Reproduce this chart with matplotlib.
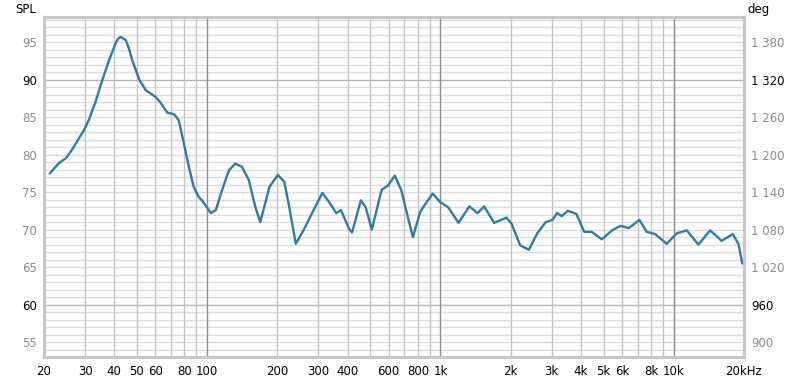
import numpy as np
import matplotlib.pyplot as plt
from matplotlib.ticker import FixedLocator, NullFormatter

# Frequency response
freq = [21.2, 23.2, 24.8, 26.3, 29.7, 31.1, 33.3, 35.6, 38.0, 40.6, 41.6, 42.7,
        44.8, 46.2, 47.8, 51.2, 54.6, 60.2, 63.3, 67.5, 72.1, 75.6, 79.5, 83.5,
        87.6, 91.9, 95.0, 103.8, 109, 116, 124, 132, 141, 151, 161, 169, 185,
        201, 214, 225, 240, 261, 286, 312, 333, 358, 375, 406, 418, 456, 478,
        508, 560, 597, 637, 679, 722, 762, 820, 874, 927, 995, 1078, 1196, 1330,
        1441, 1540, 1698, 1918, 2017, 2197, 2392, 2600, 2828, 3025, 3156, 3310,
        3516, 3823, 4133, 4446, 4921, 5440, 5910, 6420, 7120, 7660, 8320, 9330,
        10300, 11370, 12750, 14320, 16040, 17900, 18930, 19660]
spl = [77.5, 78.9, 79.5, 80.6, 83.3, 84.6, 87.1, 90.0, 92.6, 94.9, 95.5, 95.7,
       95.3, 94.2, 92.6, 90.0, 88.6, 87.7, 86.9, 85.6, 85.4, 84.6, 81.5, 78.4,
       75.7, 74.4, 73.9, 72.2, 72.6, 75.3, 77.9, 78.8, 78.4, 76.6, 73.0, 71.0,
       75.7, 77.3, 76.4, 73.0, 68.1, 70.1, 72.6, 74.9, 73.7, 72.2, 72.6, 70.1,
       69.6, 73.9, 73.0, 70.0, 75.3, 75.9, 77.2, 75.3, 71.9, 69.0, 72.4, 73.7,
       74.8, 73.7, 73.0, 70.9, 73.1, 72.2, 73.1, 70.9, 71.6, 70.8, 67.9, 67.3,
       69.5, 71.0, 71.3, 72.2, 71.8, 72.5, 72.1, 69.7, 69.7, 68.7, 69.9, 70.5,
       70.2, 71.3, 69.7, 69.4, 68.1, 69.5, 69.9, 68.0, 69.9, 68.5, 69.4, 68.1,
       65.5]

x_ticks = [20, 30, 40, 50, 60, 80, 100, 200, 300, 400, 600, 800, 1000,
           2000, 3000, 4000, 5000, 6000, 8000, 10000, 20000]
x_labels = ["20", "30", "40", "50", "60", "80", "100", "200", "300", "400",
            "600", "800", "1k", "2k", "3k", "4k", "5k", "6k", "8k", "10k", "20kHz"]
y_ticks = [55, 60, 65, 70, 75, 80, 85, 90, 95]
deg_labels = ["900", "960", "1 020", "1 080", "1 140", "1 200", "1 260", "1 320", "1 380"]

fig = plt.figure(figsize=(8, 3.81), dpi=100)
ax = fig.add_axes([0.055, 0.063, 0.875, 0.893])
ymin, ymax = 53.0, 98.4
ax.set_xscale("log")
ax.set_xlim(20, 20000)
ax.set_ylim(ymin, ymax)

# grid
for v in range(54, 99):
    c = "#b4b4b4" if v in (60, 90) else "#dcdcdc"
    ax.axhline(v, color=c, lw=1, zorder=0)
minor_x = [m * 10 ** d for d in (1, 2, 3) for m in range(2, 10)] + [20000]
for v in minor_x:
    if 20 < v < 20000:
        ax.axvline(v, color="#c4c4c4", lw=1, zorder=0)
for v in (100, 1000, 10000):
    ax.axvline(v, color="#8c8c8c", lw=1, zorder=0)

ax.plot(freq, spl, color="#2d7ca6", lw=1.7, zorder=3,
        solid_joinstyle="round", antialiased=True)

ax.xaxis.set_major_locator(FixedLocator(x_ticks))
ax.set_xticklabels(x_labels)
ax.xaxis.set_minor_formatter(NullFormatter())
ax.tick_params(axis="x", which="both", length=0, pad=6, labelsize=8.5, labelcolor="black")
ax.set_yticks(y_ticks)
ax.tick_params(axis="y", length=0, pad=5, labelsize=8.5)
for lab, v in zip(ax.get_yticklabels(), y_ticks):
    lab.set_color("black" if v in (60, 90) else "#8a8a8a")

ax2 = ax.twinx()
ax2.set_ylim(ymin, ymax)
ax2.set_yticks(y_ticks)
ax2.set_yticklabels(deg_labels)
ax2.tick_params(axis="y", length=0, pad=5, labelsize=8.5)
for lab, v in zip(ax2.get_yticklabels(), y_ticks):
    lab.set_color("black" if v in (60, 90) else "#8a8a8a")

for a in (ax, ax2):
    for s in a.spines.values():
        s.set_color("#c8c8c8")
        s.set_linewidth(2.2)

fig.text(0.019, 0.975, "SPL", fontsize=8.5, va="center", ha="left")
fig.text(0.934, 0.975, "deg", fontsize=8.5, va="center", ha="left")

plt.savefig("out.png", dpi=100)
